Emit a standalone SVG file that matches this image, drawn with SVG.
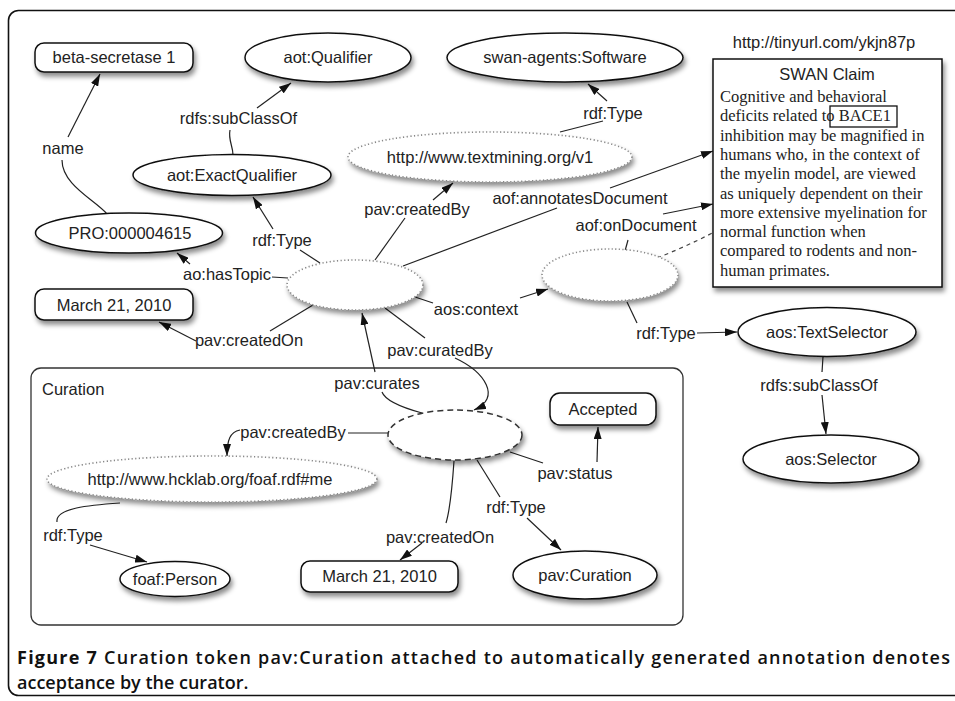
<svg xmlns="http://www.w3.org/2000/svg" width="955" height="701" viewBox="0 0 955 701">
<defs>
<filter id="sh" x="-20%" y="-30%" width="150%" height="180%">
<feDropShadow dx="2" dy="4" stdDeviation="2.5" flood-color="#000" flood-opacity="0.45"/>
</filter>
<marker id="ah" viewBox="0 0 12 8" refX="12" refY="4" markerWidth="12" markerHeight="8" markerUnits="userSpaceOnUse" orient="auto">
<path d="M0,0 L12,4 L0,8 z" fill="#111"/>
</marker>
<style>
.n{fill:#fff;stroke:#111;stroke-width:1.5;filter:url(#sh)}
.dot{fill:#fff;stroke:#888;stroke-width:1.6;stroke-dasharray:1.2 2.4;filter:url(#sh)}
.dsh{fill:#fff;stroke:#333;stroke-width:1.5;stroke-dasharray:6 4;filter:url(#sh)}
.e{fill:none;stroke:#222;stroke-width:1.2}
.a{fill:none;stroke:#222;stroke-width:1.2;marker-end:url(#ah)}
.t{font-family:"Liberation Sans",Arial,Helvetica,sans-serif;font-size:16.5px;fill:#222;text-anchor:middle}
.l{font-family:"Liberation Sans",Arial,Helvetica,sans-serif;font-size:16.5px;fill:#222}
.s{font-family:"Liberation Serif","Times New Roman",serif;font-size:16.5px;fill:#222}
.cap{font-family:"Open Sans","Liberation Sans",sans-serif;font-size:18px;fill:#111;font-weight:600}
</style>
</defs>
<rect width="955" height="701" fill="#fff"/>
<rect x="8.5" y="10.5" width="970" height="685" rx="10" fill="none" stroke="#111" stroke-width="1.6"/>

<g id="curation-frame">
<rect x="31" y="368" width="652" height="257" rx="10" fill="none" stroke="#333" stroke-width="1.3"/>
<text class="l" x="42" y="395">Curation</text>
</g>

<g id="connectors">
<path class="e" d="M107,214 C95,200 62,185 62,160"/>
<path class="a" d="M68,137 L100,74"/>
<text class="t" x="63" y="154">name</text>
<path class="e" d="M233,155 C233,146 228,140 230,130"/>
<path class="a" d="M257,108 L291,83"/>
<text class="t" x="238.5" y="124">rdfs:subClassOf</text>
<path class="e" d="M300,250 L320,263"/>
<path class="a" d="M273,229 L253,197"/>
<text class="t" x="282" y="246">rdf:Type</text>
<path class="e" d="M375,260 L405,218"/>
<path class="a" d="M433,200 L453,183"/>
<text class="t" x="417" y="215">pav:createdBy</text>
<path class="e" d="M560,132 L603,121"/>
<path class="a" d="M607,101 L588,84"/>
<text class="t" x="613" y="119">rdf:Type</text>
<path class="e" d="M403,266 L557,208"/>
<path class="a" d="M610,188 L713,151"/>
<text class="t" x="580" y="204">aof:annotatesDocument</text>
<path class="e" d="M288,278 L272,277"/>
<path class="a" d="M190,264 L177,253"/>
<text class="t" x="227" y="280">ao:hasTopic</text>
<path class="e" d="M313,305 L270,331"/>
<path class="a" d="M196,341 L159,322"/>
<text class="t" x="249" y="346">pav:createdOn</text>
<path class="e" d="M415,297 L433,303"/>
<path class="a" d="M520,298 L548,289"/>
<text class="t" x="476" y="315">aos:context</text>
<path class="e" d="M385,308 L425,338"/>
<path class="a" d="M455,358 C485,372 502,398 474,410"/>
<text class="t" x="440" y="356">pav:curatedBy</text>
<path class="e" d="M422,413 C400,407 385,400 382,392"/>
<path class="a" d="M375,372 L362,313"/>
<text class="t" x="377" y="389">pav:curates</text>
<path class="e" d="M625,251 L628,240"/>
<path class="a" d="M663,214 L713,204"/>
<text class="t" x="636" y="231">aof:onDocument</text>
<path class="e" d="M627,302 L637,323"/>
<path class="a" d="M697,333 L737,332"/>
<text class="t" x="666" y="339">rdf:Type</text>
<path class="e" d="M823,357 L822,372"/>
<path class="a" d="M822,395 L826,434"/>
<text class="t" x="819" y="391">rdfs:subClassOf</text>
<path class="e" d="M390,433 L348,433"/>
<path class="a" d="M240,430 C230,432 227,440 227,456"/>
<text class="t" x="293" y="438">pav:createdBy</text>
<path class="e" d="M510,452 L543,463"/>
<path class="a" d="M597,462 L598,427"/>
<text class="t" x="575" y="479">pav:status</text>
<path class="e" d="M477,460 L500,497"/>
<path class="a" d="M527,518 L561,550"/>
<text class="t" x="516" y="513">rdf:Type</text>
<path class="e" d="M454,461 C452,490 450,510 446,523"/>
<path class="a" d="M422,543 L400,560"/>
<text class="t" x="440" y="543">pav:createdOn</text>
<path class="e" d="M120,503 C90,505 55,508 57,522"/>
<path class="a" d="M90,545 L147,562"/>
<text class="t" x="73" y="541">rdf:Type</text>
<path d="M657,258 Q740,225 790,182 T845,129" fill="none" stroke="#444" stroke-width="1.2" stroke-dasharray="4 4" marker-end="url(#ah)"/>
</g>

<g id="beta-secretase"><rect class="n" x="35" y="43" width="158" height="29" rx="9"/><text class="t" x="114" y="63">beta-secretase 1</text></g>
<g id="aot-qualifier"><ellipse class="n" cx="328" cy="57.5" rx="83" ry="24.5"/><text class="t" x="328" y="63">aot:Qualifier</text></g>
<g id="swan-software"><ellipse class="n" cx="565" cy="57.5" rx="118" ry="24.5"/><text class="t" x="565" y="63">swan-agents:Software</text></g>
<g id="aot-exact"><ellipse class="n" cx="232" cy="175" rx="99" ry="20.5"/><text class="t" x="232" y="181">aot:ExactQualifier</text></g>
<g id="textmining"><ellipse class="dot" cx="490" cy="157" rx="142" ry="25"/><text class="t" x="490" y="163">http://www.textmining.org/v1</text></g>
<g id="pro"><ellipse class="n" cx="129" cy="233" rx="93.5" ry="20"/><text class="t" x="130" y="239">PRO:000004615</text></g>
<g id="annotation"><ellipse class="dot" cx="355" cy="285" rx="68" ry="25"/></g>
<g id="date-top"><rect class="n" x="35" y="289" width="158" height="31" rx="9"/><text class="t" x="114" y="310.5">March 21, 2010</text></g>
<g id="selector"><ellipse class="dot" cx="610" cy="275" rx="68" ry="26"/></g>
<g id="text-selector"><ellipse class="n" cx="827" cy="332" rx="89" ry="24.5"/><text class="t" x="827" y="338">aos:TextSelector</text></g>
<g id="aos-selector"><ellipse class="n" cx="831" cy="459" rx="88" ry="24"/><text class="t" x="831" y="465">aos:Selector</text></g>
<g id="curation"><ellipse class="dsh" cx="455" cy="435" rx="67" ry="25"/></g>
<g id="accepted"><rect class="n" x="550" y="393" width="106" height="32" rx="10"/><text class="t" x="603" y="415">Accepted</text></g>
<g id="hcklab"><ellipse class="dot" cx="212" cy="479" rx="165" ry="23"/><text class="t" x="210" y="485">http://www.hcklab.org/foaf.rdf#me</text></g>
<g id="foaf-person"><ellipse class="n" cx="175" cy="579" rx="55" ry="17.5"/><text class="t" x="175" y="585">foaf:Person</text></g>
<g id="date-bottom"><rect class="n" x="301" y="561" width="157" height="31" rx="9"/><text class="t" x="379.5" y="582">March 21, 2010</text></g>
<g id="pav-curation"><ellipse class="n" cx="585" cy="575" rx="72" ry="24"/><text class="t" x="585" y="581">pav:Curation</text></g>

<g id="swan-claim">
<text class="t" x="824" y="48">http://tinyurl.com/ykjn87p</text>
<rect class="n" x="713" y="59" width="229" height="228"/>
<text class="t" x="827" y="80">SWAN Claim</text>
<text class="s" x="720" y="102">Cognitive and behavioral</text>
<text class="s" x="720" y="121.3">deficits related to BACE1</text>
<rect x="830" y="106" width="67" height="21" fill="none" stroke="#111" stroke-width="1.3"/>
<text class="s" x="720" y="140.6">inhibition may be magnified in</text>
<text class="s" x="720" y="159.9">humans who, in the context of</text>
<text class="s" x="720" y="179.2">the myelin model, are viewed</text>
<text class="s" x="720" y="198.5">as uniquely dependent on their</text>
<text class="s" x="720" y="217.8">more extensive myelination for</text>
<text class="s" x="720" y="237.1">normal function when</text>
<text class="s" x="720" y="256.4">compared to rodents and non-</text>
<text class="s" x="720" y="275.7">human primates.</text>
</g>

<g id="caption">
<text class="cap" x="17" y="664" textLength="933" lengthAdjust="spacing"><tspan font-weight="700">Figure 7</tspan> Curation token pav:Curation attached to automatically generated annotation denotes</text>
<text class="cap" x="17" y="689">acceptance by the curator.</text>
</g>
</svg>
